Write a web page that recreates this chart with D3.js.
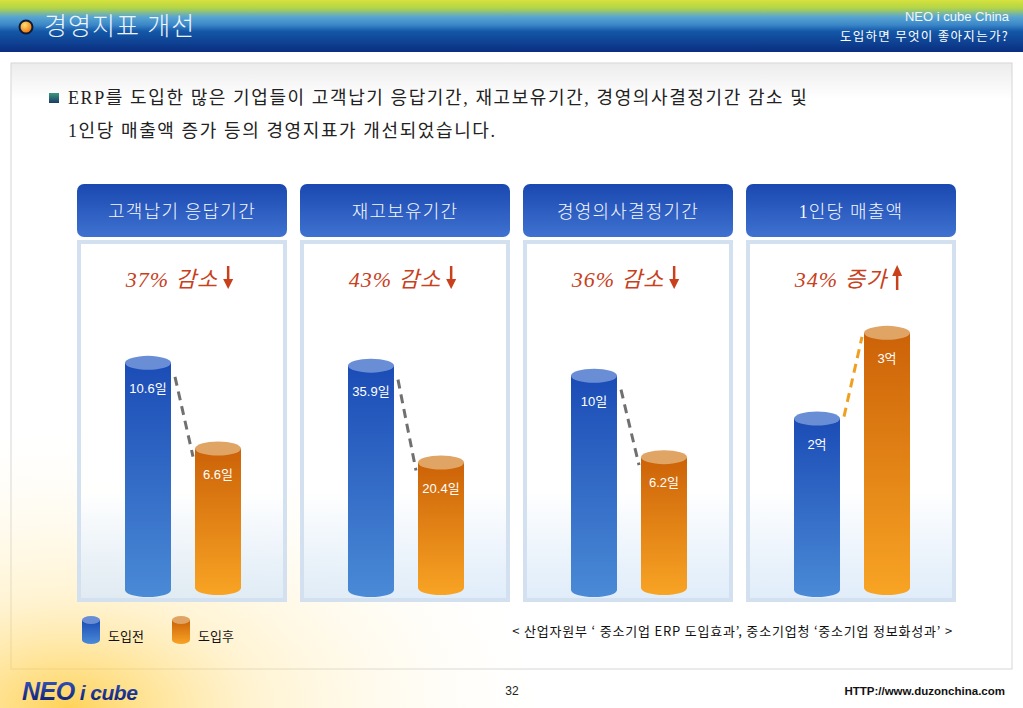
<!DOCTYPE html>
<html>
<head>
<meta charset="utf-8">
<script src="https://cdn.jsdelivr.net/npm/d3@7"></script>
<style>
  body { margin: 0; background: #fff; }
  svg { display: block; }
</style>
</head>
<body>
<svg width="1023" height="708"></svg>
<script>
// data
const panelTitles = ["고객납기 응답기간", "재고보유기간", "경영의사결정기간", "1인당 매출액"];
const changeLabels = ["37% 감소", "43% 감소", "36% 감소", "34% 증가"];
const changeDir = ["down", "down", "down", "up"];
const beforeValues = [10.6, 35.9, 10, 2];
const afterValues = [6.6, 20.4, 6.2, 3];
const valueLabels = [["10.6일", "6.6일"], ["35.9일", "20.4일"], ["10일", "6.2일"], ["2억", "3억"]];
const domainMax = [14, 48, 14, 3.5];
const seriesNames = ["도입전", "도입후"];

const svg = d3.select("svg");
const defs = svg.append("defs");
const KR = "'Noto Sans CJK KR', sans-serif";
const SERIF = "'Liberation Serif', 'Noto Sans CJK KR', serif";
const SANS = "'Liberation Sans', 'Noto Sans CJK KR', sans-serif";

function linGrad(id, stops, vertical = true) {
    const g = defs.append("linearGradient").attr("id", id)
        .attr("x1", 0).attr("y1", 0)
        .attr("x2", vertical ? 0 : 1).attr("y2", vertical ? 1 : 0);
    stops.forEach(s => g.append("stop").attr("offset", s[0]).attr("stop-color", s[1]).attr("stop-opacity", s[2] == null ? 1 : s[2]));
}
linGrad("hdr", [[0, "#d8e23c"], [0.16, "#b0d448"], [0.32, "#5aa6d0"], [0.48, "#3a86c8"], [0.6, "#1458a8"], [1, "#0a2e80"]]);
linGrad("box", [[0, "#ececec"], [0.06, "#ffffff"], [1, "#ffffff"]]);
linGrad("head", [[0, "#1a48b0"], [1, "#3f72d0"]]);
linGrad("body", [[0, "#ffffff"], [0.7, "#ffffff", 0.92], [1, "#d8e8f8", 0.8]]);
linGrad("blueBar", [[0, "#1b4cb6"], [1, "#4a8ad6"]]);
linGrad("orangeBar", [[0, "#cc6208"], [1, "#f8a424"]]);
linGrad("bullet", [[0, "#3a9a7a"], [1, "#1a3a6a"]]);
linGrad("logo", [[0, "#3a5ac0"], [1, "#0a1a70"]]);
const glow = defs.append("radialGradient").attr("id", "glow")
    .attr("cx", 0.12).attr("cy", 1).attr("r", 0.85);
glow.append("stop").attr("offset", 0).attr("stop-color", "#ffc830").attr("stop-opacity", 0.8);
glow.append("stop").attr("offset", 0.4).attr("stop-color", "#ffe290").attr("stop-opacity", 0.4);
glow.append("stop").attr("offset", 1).attr("stop-color", "#fff8e0").attr("stop-opacity", 0);
const dot = defs.append("radialGradient").attr("id", "dot").attr("cx", 0.4).attr("cy", 0.35).attr("r", 0.6);
dot.append("stop").attr("offset", 0).attr("stop-color", "#ffe070");
dot.append("stop").attr("offset", 1).attr("stop-color", "#f07a10");

// header
svg.append("rect").attr("x", 0).attr("y", 0).attr("width", 1023).attr("height", 52).attr("fill", "url(#hdr)");
svg.append("circle").attr("cx", 26).attr("cy", 27).attr("r", 6.5)
    .attr("fill", "url(#dot)").attr("stroke", "#0a1a3a").attr("stroke-width", 2);
svg.append("text").attr("x", 44).attr("y", 35).attr("fill", "#eef4fb")
    .attr("font-family", SERIF).attr("font-size", 25).attr("font-weight", 300).attr("letter-spacing", 1)
    .text("경영지표 개선");
svg.append("text").attr("x", 1009).attr("y", 21).attr("text-anchor", "end").attr("fill", "#f2f6fa")
    .attr("font-family", SANS).attr("font-size", 13).text("NEO i cube China");
svg.append("text").attr("x", 1009).attr("y", 41).attr("text-anchor", "end").attr("fill", "#ffffff")
    .attr("font-family", KR).attr("font-size", 12.5).attr("letter-spacing", 1.3).text("도입하면 무엇이 좋아지는가?");

// content box
svg.append("rect").attr("x", 11).attr("y", 63).attr("width", 1001).attr("height", 606)
    .attr("fill", "url(#box)").attr("stroke", "#d6d6d6");
// warm glow at the lower left
svg.append("rect").attr("x", 0).attr("y", 380).attr("width", 560).attr("height", 328).attr("fill", "url(#glow)");

// intro text
svg.append("rect").attr("x", 49).attr("y", 93).attr("width", 10).attr("height", 10).attr("fill", "url(#bullet)");
svg.append("text").attr("x", 68).attr("y", 104).attr("fill", "#222")
    .attr("font-family", SERIF).attr("font-size", 18).attr("letter-spacing", 1.6)
    .text("ERP를 도입한 많은 기업들이 고객납기 응답기간, 재고보유기간, 경영의사결정기간 감소 및");
svg.append("text").attr("x", 68).attr("y", 137).attr("fill", "#222")
    .attr("font-family", SERIF).attr("font-size", 18).attr("letter-spacing", 1.6)
    .text("1인당 매출액 증가 등의 경영지표가 개선되었습니다.");

// panels
const panelX = d3.scaleBand().domain(d3.range(panelTitles.length)).range([77, 956]).paddingInner(13 / 223).paddingOuter(0);
const pw = panelX.bandwidth();
const barX = d3.scaleBand().domain(seriesNames).range([48, 164]).paddingInner(0.343);
const bw = barX.bandwidth();
const base = 590;
const ry = 7;

panelTitles.forEach((title, i) => {
    const g = svg.append("g").attr("transform", `translate(${panelX(i)},0)`);
    g.append("rect").attr("x", 0).attr("y", 184).attr("width", pw).attr("height", 53).attr("rx", 7)
        .attr("fill", "url(#head)");
    g.append("text").attr("x", pw / 2).attr("y", 218).attr("text-anchor", "middle").attr("fill", "#f4f8ff")
        .attr("font-family", SERIF).attr("font-size", 18).attr("font-weight", 300).attr("letter-spacing", 1.2).text(title);
    g.append("rect").attr("x", 2).attr("y", 242).attr("width", pw - 4).attr("height", 358)
        .attr("fill", "url(#body)").attr("stroke", "#d3e0ef").attr("stroke-width", 4);

    // change label and arrow
    const lbl = g.append("text").attr("x", pw / 2 - 10).attr("y", 287).attr("text-anchor", "middle")
        .attr("fill", "#c8401c").attr("font-family", SERIF).attr("font-style", "italic").attr("font-size", 22)
        .attr("letter-spacing", 1).text(changeLabels[i]);
    const tl = lbl.node().getComputedTextLength();
    const ax = pw / 2 - 10 + tl / 2 + 10;
    const arrow = g.append("g").attr("fill", "#c8401c").attr("stroke", "#c8401c");
    if (changeDir[i] === "down") {
        arrow.append("line").attr("x1", ax).attr("x2", ax).attr("y1", 266).attr("y2", 281).attr("stroke-width", 2.5);
        arrow.append("path").attr("d", `M${ax - 5},279 L${ax + 5},279 L${ax},289 Z`).attr("stroke", "none");
    } else {
        arrow.append("line").attr("x1", ax).attr("x2", ax).attr("y1", 274).attr("y2", 290).attr("stroke-width", 2.5);
        arrow.append("path").attr("d", `M${ax - 5},276 L${ax + 5},276 L${ax},265 Z`).attr("stroke", "none");
    }

    const y = d3.scaleLinear().domain([0, domainMax[i]]).range([base, base - 300]);
    const vals = [beforeValues[i], afterValues[i]];

    // dashed connector
    const up = changeDir[i] === "up";
    g.append("line")
        .attr("x1", barX(seriesNames[0]) + bw + 4).attr("y1", y(vals[0]) + (up ? -2 : 14))
        .attr("x2", barX(seriesNames[1]) - 2).attr("y2", y(vals[1]) + (up ? 4 : 8))
        .attr("stroke", up ? "#f0a020" : "#707070").attr("stroke-width", 3).attr("stroke-dasharray", "9,6");

    vals.forEach((v, j) => {
        const x0 = barX(seriesNames[j]);
        const top = y(v);
        const bot = j === 0 ? base : base - 2;
        const cx = x0 + bw / 2;
        g.append("path")
            .attr("d", `M${x0},${top} L${x0},${bot} A${bw / 2},${ry} 0 0 0 ${x0 + bw},${bot} L${x0 + bw},${top} Z`)
            .attr("fill", j === 0 ? "url(#blueBar)" : "url(#orangeBar)");
        g.append("ellipse").attr("cx", cx).attr("cy", top).attr("rx", bw / 2).attr("ry", ry)
            .attr("fill", j === 0 ? "#6a8ed6" : "#e0a464");
        g.append("text").attr("x", cx).attr("y", top + 30).attr("text-anchor", "middle").attr("fill", "#fff")
            .attr("font-family", SANS).attr("font-size", 13).text(valueLabels[i][j]);
    });
});

// legend
const legend = svg.append("g");
seriesNames.forEach((name, j) => {
    const lx = 82 + j * 90;
    legend.append("path")
        .attr("d", `M${lx},620 L${lx},640 A9,4 0 0 0 ${lx + 18},640 L${lx + 18},620 Z`)
        .attr("fill", j === 0 ? "url(#blueBar)" : "url(#orangeBar)");
    legend.append("ellipse").attr("cx", lx + 9).attr("cy", 620).attr("rx", 9).attr("ry", 4)
        .attr("fill", j === 0 ? "#6a8ed6" : "#e0a464");
    legend.append("text").attr("x", lx + 26).attr("y", 641).attr("fill", "#111")
        .attr("font-family", KR).attr("font-size", 13).text(name);
});

svg.append("text").attr("x", 953).attr("y", 636).attr("text-anchor", "end").attr("fill", "#111")
    .attr("font-family", KR).attr("font-size", 13).attr("letter-spacing", 0.8)
    .text("< 산업자원부 ‘ 중소기업 ERP 도입효과’,  중소기업청 ‘중소기업 정보화성과’ >");

// footer
svg.append("text").attr("x", 22).attr("y", 700).attr("fill", "url(#logo)")
    .attr("font-family", SANS).attr("font-style", "italic").attr("font-weight", "bold").attr("font-size", 25)
    .attr("letter-spacing", -0.5).text("NEO")
    .append("tspan").attr("font-size", 21).attr("dx", 5).text("i cube");
svg.append("text").attr("x", 512).attr("y", 695).attr("text-anchor", "middle").attr("fill", "#222")
    .attr("font-family", SANS).attr("font-size", 12).text("32");
svg.append("text").attr("x", 1005).attr("y", 695).attr("text-anchor", "end").attr("fill", "#111")
    .attr("font-family", SANS).attr("font-weight", "bold").attr("font-size", 11.5)
    .text("HTTP://www.duzonchina.com");
</script>
</body>
</html>
